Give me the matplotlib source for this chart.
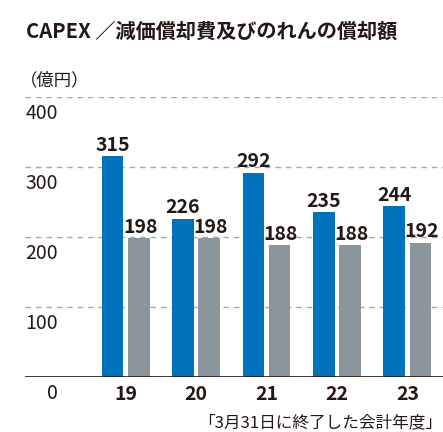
import matplotlib
matplotlib.use("Agg")
import matplotlib.pyplot as plt
import matplotlib.transforms as mtransforms
import numpy as np

plt.rcParams['font.family'] = ['Noto Sans CJK JP', 'DejaVu Sans']

# data
years = ['19', '20', '21', '22', '23']
capex = [315, 226, 292, 235, 244]
depreciation = [198, 198, 188, 188, 192]
yticks = [0, 100, 200, 300, 400]

BLUE = '#0072BC'
GRAY = '#8A969C'
INK = '#231815'

W, H = 443, 432
fig = plt.figure(figsize=(W / 100, H / 100), dpi=100)

# axes placed in pixel terms: x 25..443, y(0)=377, y(400)=97
ax = fig.add_axes([25 / W, 1 - 377 / H, 1 - 25 / W, (377 - 97) / H])

x = np.arange(len(years))
bw = 0.305
off = 0.186
ax.bar(x - off, capex, width=bw, color=BLUE, zorder=3)
ax.bar(x + off, depreciation, width=bw, color=GRAY, zorder=3)

for xi, v in zip(x, capex):
    ax.annotate(str(v), (xi - off, v), xytext=(0, 1), textcoords='offset points',
                ha='center', va='bottom', fontsize=14, fontweight='bold', color=INK)
for xi, v in zip(x, depreciation):
    ax.annotate(str(v), (xi + off, v), xytext=(1, 1), textcoords='offset points',
                ha='center', va='bottom', fontsize=14, fontweight='bold', color=INK)

ax.set_xlim(-1.43, 4.507)
ax.set_ylim(0, 400)

for t in yticks[1:]:
    ax.axhline(t, color='#A8A8A8', lw=1.0, ls=(0, (4, 3.5)), zorder=1)
ax.axhline(0, color=INK, lw=1.2, zorder=4)

# y tick labels drawn under each gridline, right-aligned
trans = mtransforms.blended_transform_factory(ax.transAxes, ax.transData)
for t in yticks:
    ax.annotate(str(t), (33 / 418, t), xycoords=trans, xytext=(0, -4),
                textcoords='offset points', ha='right', va='top',
                fontsize=14, color=INK)

ax.set_xticks(x)
ax.set_xticklabels(years, fontsize=14, fontweight='bold', color=INK)
ax.tick_params(axis='x', length=0, pad=6)
ax.set_yticks([])
for s in ax.spines.values():
    s.set_visible(False)

fig.text(26 / W, 1 - 31 / H, 'CAPEX ／減価償却費及びのれんの償却額', fontsize=14.5,
         fontweight='bold', color=INK, ha='left', va='center')
fig.text(20 / W, 1 - 80 / H, '（億円）', fontsize=12.5, color=INK, ha='left', va='center')
fig.text(442 / W, 1 - 423 / H, '「3月31日に終了した会計年度」', fontsize=12, color=INK,
         ha='right', va='center')

fig.savefig('out.png', dpi=100)
